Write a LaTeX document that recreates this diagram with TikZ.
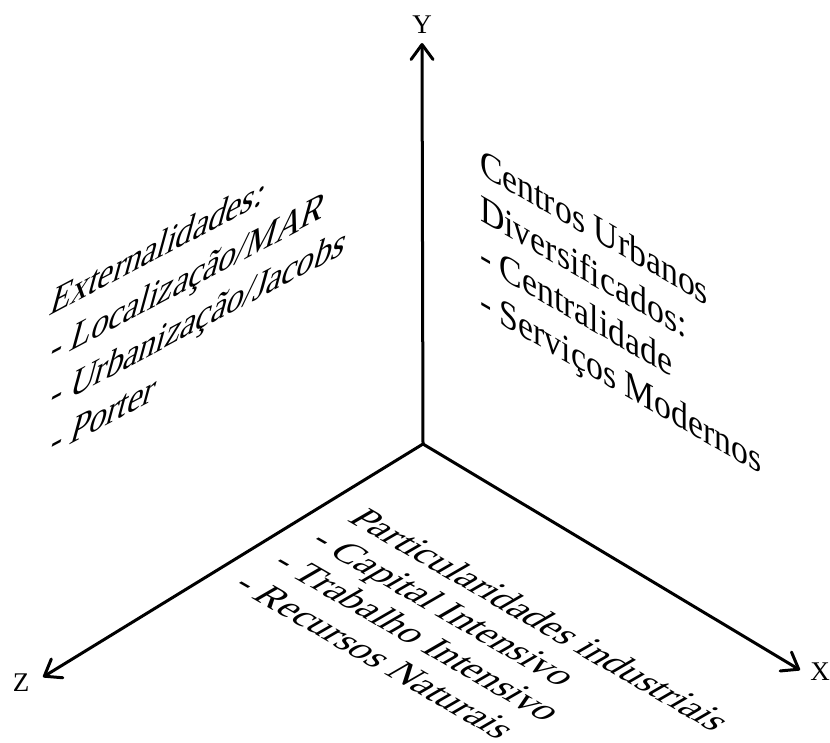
\documentclass[tikz,border=0pt]{standalone}
\usepackage{fontspec}
\setmainfont{Liberation Serif}
\usetikzlibrary{arrows.meta}
\begin{document}
\begin{tikzpicture}[x=1pt,y=-1pt,
  axis/.style={line width=3pt, line cap=round, -{Straight Barb[length=15pt,width=22pt,round]}},
  txt/.style={inner sep=0pt, anchor=base west, font=\fontsize{39}{46}\selectfont},
  lface/.style={txt, cm={0.88,0.465,0.3,1.1,(0,0)}},
  rface/.style={txt, cm={0.866,-0.5,0,1,(0,0)}},
  bface/.style={txt, cm={0.866,-0.5,0.866,0.5,(0,0)}},
  lbl/.style={inner sep=0pt, font=\fontsize{27}{30}\selectfont}]
\useasboundingbox (0,0) rectangle (830,742);
\coordinate (O) at (423,444);
\coordinate (Yt) at (422,43);
\coordinate (Xt) at (800,670);
\coordinate (Zt) at (43,677);
\draw[axis] (O) -- (Yt);
\draw[axis] (O) -- (Xt);
\draw[axis] (O) -- (Zt);
\node[lbl] (Y) at (422,25) {Y};
\node[lbl] (X) at (820,672) {X};
\node[lbl] (Z) at (21,683) {Z};
% left face
\node[lface] (ext1) at (48,317) {Externalidades:};
\node[lface] (ext2) at (48,363.5) {- Localização/MAR};
\node[lface] (ext3) at (48,410) {- Urbanização/Jacobs};
\node[lface] (ext4) at (48,456.5) {- Porter};
% right face
\node[rface] (cen1) at (480,174) {Centros Urbanos};
\node[rface] (cen2) at (480,220) {Diversificados:};
\node[rface] (cen3) at (480,266) {- Centralidade};
\node[rface] (cen4) at (480,312) {- Serviços Modernos};
% floor
\node[bface] (par1) at (346,520) {Particularidades industriais};
\node[bface] (par2) at (308,542) {- Capital Intensivo};
\node[bface] (par3) at (270,564) {- Trabalho Intensivo};
\node[bface] (par4) at (231,586) {- Recursos Naturais};
\end{tikzpicture}
\end{document}
